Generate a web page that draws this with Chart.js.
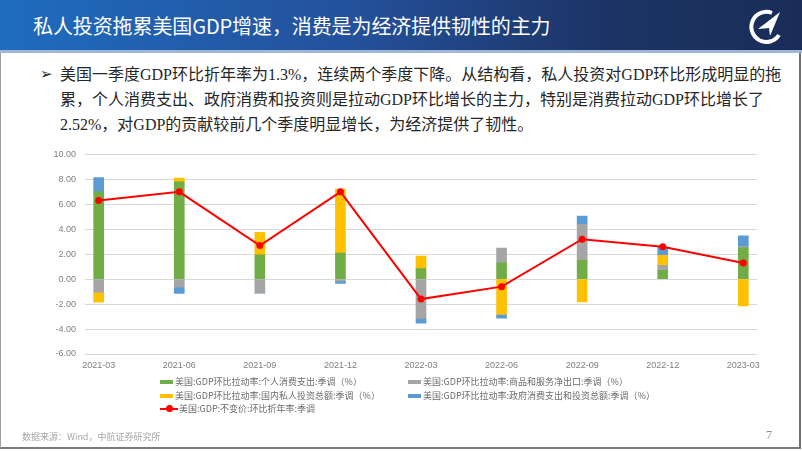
<!DOCTYPE html>
<html>
<head>
<meta charset="utf-8">
<script src="https://cdn.jsdelivr.net/npm/chart.js@4"></script>
<style>
  html, body { margin: 0; padding: 0; background: #fff; }
  body { width: 802px; height: 451px; position: relative; overflow: hidden;
         font-family: "Liberation Serif", "Noto Sans CJK SC", serif; }
  .header { position: absolute; left: 0; top: 0; width: 802px; height: 50px;
            background: linear-gradient(90deg, #1f6cbf 0%, #24509a 45%, #1c3465 75%, #1a2d58 100%);
            border-bottom: 3px solid #9fb6d6; }
  .title { position: absolute; left: 33px; top: 12px; color: #fff; font-size: 20px;
           font-family: "Noto Sans CJK SC", sans-serif; letter-spacing: -0.1px; line-height: 28px; }
  .frame { position: absolute; left: 0; top: 53px; width: 798px; height: 394px;
           border-left: 1px solid #a0a0a0; border-right: 2px solid #6f6f6f; border-bottom: 2px solid #7a7a7a; }
  .logo { position: absolute; left: 748px; top: 9px; }
  .text { position: absolute; left: 60px; top: 62px; font-size: 16px; line-height: 25px; color: #262626; }
  .arrow { position: absolute; left: 40px; top: 62px; font-size: 15px; line-height: 25px; color: #262626;
           font-family: "DejaVu Sans", sans-serif; }
  #chartBox { position: absolute; left: 0; top: 140px; width: 802px; height: 240px; }
  .legend { position: absolute; font-family: "Noto Sans CJK SC", sans-serif; font-size: 9px; color: #6b6b6b; }
  .legend .item { position: absolute; white-space: nowrap; line-height: 12px; }
  .legend .sw { display: inline-block; vertical-align: middle; width: 13px; height: 4px; margin-right: 2px; position: relative; top: -1px; }
  .legend .ln { display: inline-block; vertical-align: middle; width: 18px; height: 2px; position: relative; top: -1px; margin-right: 1px; }
  .legend .ln i { position: absolute; left: 6px; top: -2.5px; width: 7px; height: 7px; border-radius: 50%; }
  .source { position: absolute; left: 22px; top: 430px; font-size: 9px; color: #a6a6a6;
            font-family: "Noto Sans CJK SC", sans-serif; }
  .page { position: absolute; left: 766px; top: 428px; font-size: 12px; color: #8c8c8c; }
</style>
</head>
<body>
<div class="header">
  <div class="title">私人投资拖累美国GDP增速，消费是为经济提供韧性的主力</div>
  <svg class="logo" width="36" height="36" viewBox="0 0 36 36">
    <path d="M24 4 A15 15 0 1 0 31 26" fill="none" stroke="#fff" stroke-width="4"/>
    <path d="M32 3 L10 20 L21 19 L22 27 Z" fill="#fff"/>
    <text x="18" y="30" font-size="5.5" fill="#1a2d58" text-anchor="middle" font-family="Liberation Sans" font-weight="bold">AVIC</text>
  </svg>
</div>
<div class="frame"></div>
<div class="arrow">➢</div>
<div class="text">美国一季度GDP环比折年率为1.3%，连续两个季度下降。从结构看，私人投资对GDP环比形成明显的拖<br>累，个人消费支出、政府消费和投资则是拉动GDP环比增长的主力，特别是消费拉动GDP环比增长了<br>2.52%，对GDP的贡献较前几个季度明显增长，为经济提供了韧性。</div>
<div id="chartBox"><canvas id="c"></canvas></div>
<div class="legend" id="legend"></div>
<div class="source">数据来源：Wind，中航证券研究所</div>
<div class="page">7</div>
<script>
const quarters = ['2021-03', '2021-06', '2021-09', '2021-12', '2022-03', '2022-06', '2022-09', '2022-12', '2023-03'];
const consumption = [7.0, 7.8, 1.95, 2.08, 0.85, 1.3, 1.5, 0.7, 2.52];
const netExports = [-1.05, -0.65, -1.1, -0.15, -3.15, 1.2, 2.9, 0.4, 0.1];
const privateInvest = [-0.8, 0.3, 1.8, 5.15, 1.0, -2.83, -1.82, 0.8, -2.14];
const government = [1.15, -0.5, -0.02, -0.2, -0.38, -0.3, 0.65, 0.67, 0.85];
const gdp = [6.3, 7.0, 2.7, 7.0, -1.6, -0.6, 3.2, 2.6, 1.3];
const yTicks = [-6, -4, -2, 0, 2, 4, 6, 8, 10];

const names = [
  '美国:GDP环比拉动率:个人消费支出:季调（%）',
  '美国:GDP环比拉动率:商品和服务净出口:季调（%）',
  '美国:GDP环比拉动率:国内私人投资总额:季调（%）',
  '美国:GDP环比拉动率:政府消费支出和投资总额:季调（%）',
  '美国:GDP:不变价:环比折年率:季调'
];
const colors = ['#70ad47', '#a5a5a5', '#ffc000', '#5b9bd5', '#ff0000'];

const pts = arr => arr.map((v, i) => ({ x: i, y: v }));
const barSet = (i, arr) => ({
  type: 'bar', label: names[i], data: pts(arr), backgroundColor: colors[i],
  barThickness: 10, stack: 'bars', order: 2
});

new Chart(document.getElementById('c'), {
  data: {
    datasets: [
      {
        type: 'line', label: names[4], data: pts(gdp), borderColor: colors[4], backgroundColor: colors[4],
        borderWidth: 2, pointRadius: 3.5, pointBorderWidth: 0, stack: 'line', order: 1, tension: 0
      },
      barSet(0, consumption),
      barSet(1, netExports),
      barSet(2, privateInvest),
      barSet(3, government)
    ]
  },
  options: {
    responsive: true,
    maintainAspectRatio: false,
    animation: false,
    layout: { padding: { left: 40, right: 45, top: 14, bottom: 0 } },
    plugins: { legend: { display: false }, tooltip: { enabled: false } },
    scales: {
      x: {
        type: 'linear', min: -0.17, max: 8.17, stacked: true, offset: false,
        afterBuildTicks: axis => { axis.ticks = quarters.map((q, i) => ({ value: i })); },
        afterFit: axis => { axis.height = 26; },
        grid: { display: false, drawTicks: false },
        border: { display: false },
        ticks: {
          callback: v => quarters[v], autoSkip: false, maxRotation: 0, padding: 6,
          color: '#7f7f7f', font: { family: 'Liberation Sans', size: 9 }
        }
      },
      y: {
        stacked: true, min: -6, max: 10,
        afterBuildTicks: axis => { axis.ticks = yTicks.map(v => ({ value: v })); },
        afterFit: axis => { axis.width = 45; },
        grid: { color: '#d9d9d9', drawTicks: false },
        border: { display: false },
        ticks: {
          callback: v => v.toFixed(2), padding: 9,
          color: '#7f7f7f', font: { family: 'Liberation Sans', size: 9 }
        }
      }
    }
  }
});

// legend in two columns, like the source
const legendPos = [[160, 376], [408, 376], [160, 390], [408, 390], [160, 403]];
const legend = document.getElementById('legend');
names.forEach((n, i) => {
  const d = document.createElement('div');
  d.className = 'item';
  d.style.left = legendPos[i][0] + 'px';
  d.style.top = legendPos[i][1] + 'px';
  d.innerHTML = i === 4
    ? `<span class="ln" style="background:${colors[i]}"><i style="background:${colors[i]}"></i></span>${n}`
    : `<span class="sw" style="background:${colors[i]}"></span>${n}`;
  legend.appendChild(d);
});
</script>
</body>
</html>
